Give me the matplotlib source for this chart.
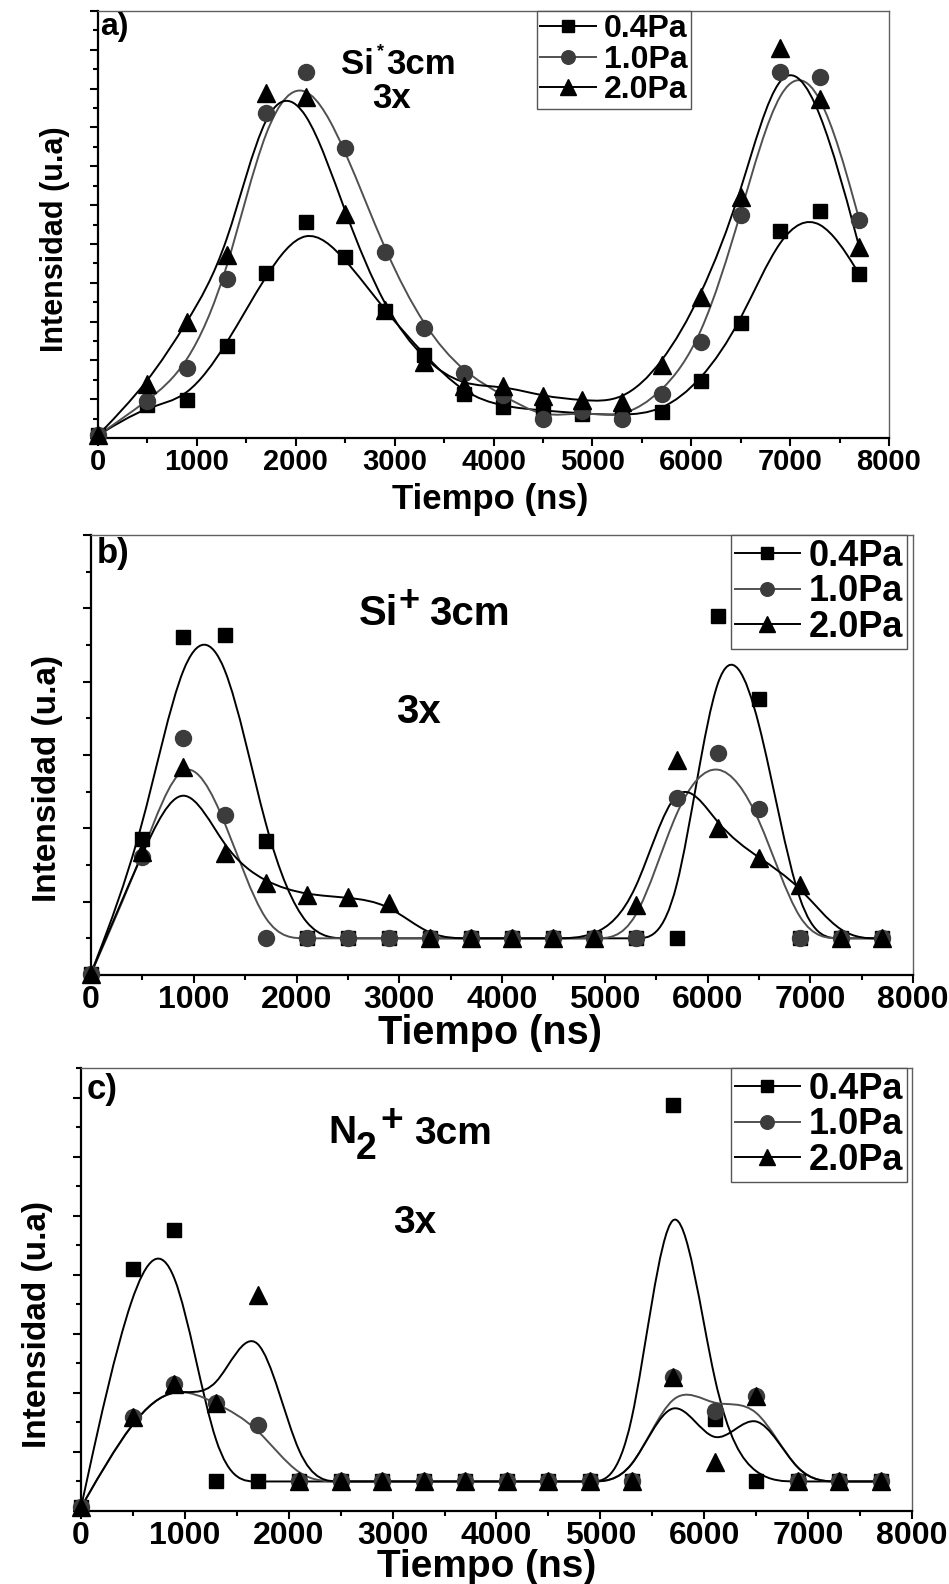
import numpy as np
import matplotlib
matplotlib.use('Agg')
import matplotlib.pyplot as plt
from matplotlib.path import Path
from matplotlib.patches import PathPatch
from matplotlib.lines import Line2D
from matplotlib.ticker import MultipleLocator

plt.rcParams['font.family'] = ['Liberation Sans', 'DejaVu Sans']
plt.rcParams['font.weight'] = 'bold'

W, H = 949, 1584   # output size in pixels

# time axis shared by the three panels (ns)
t_ns = [0, 500, 900, 1300, 1700, 2100, 2500, 2900, 3300, 3700,
        4100, 4500, 4900, 5300, 5700, 6100, 6500, 6900, 7300, 7700]
labels = ['0.4Pa', '1.0Pa', '2.0Pa']

# a) Si* 3cm
a_04 = [0.07, 0.84, 0.98, 2.38, 4.24, 5.57, 4.65, 3.28, 2.14, 1.13,
        0.80, 0.71, 0.63, 0.58, 0.67, 1.46, 2.95, 5.33, 5.85, 4.22]
a_10 = [0.07, 0.95, 1.80, 4.09, 8.36, 9.42, 7.47, 4.80, 2.83, 1.67,
        1.10, 0.50, 0.69, 0.50, 1.14, 2.47, 5.74, 9.44, 9.30, 5.62]
a_20 = [0.07, 1.40, 2.98, 4.71, 8.89, 8.78, 5.76, 3.30, 1.97, 1.33,
        1.35, 1.07, 0.97, 0.92, 1.87, 3.62, 6.22, 10.04, 8.73, 4.91]

# b) Si+ 3cm
b_04 = [0.02, 1.85, 4.61, 4.63, 1.83, 0.5, 0.5, 0.5, 0.5, 0.5,
        0.5, 0.5, 0.5, 0.5, 0.5, 4.89, 3.77, 0.5, 0.5, 0.5]
b_10 = [0.02, 1.61, 3.23, 2.18, 0.5, 0.5, 0.5, 0.5, 0.5, 0.5,
        0.5, 0.5, 0.5, 0.5, 2.41, 3.03, 2.27, 0.5, 0.5, 0.5]
b_20 = [0.02, 1.68, 2.83, 1.67, 1.25, 1.09, 1.06, 0.98, 0.5, 0.5,
        0.5, 0.5, 0.5, 0.95, 2.93, 2.00, 1.60, 1.23, 0.5, 0.5]

# c) N2+ 3cm
c_04 = [0.06, 4.09, 4.75, 0.5, 0.5, 0.5, 0.5, 0.5, 0.5, 0.5,
        0.5, 0.5, 0.5, 0.5, 6.87, 1.55, 0.5, 0.5, 0.5, 0.5]
c_10 = [0.06, 1.59, 2.15, 1.83, 1.45, 0.5, 0.5, 0.5, 0.5, 0.5,
        0.5, 0.5, 0.5, 0.5, 2.27, 1.70, 1.94, 0.5, 0.5, 0.5]
c_20 = [0.06, 1.59, 2.15, 1.83, 3.66, 0.5, 0.5, 0.5, 0.5, 0.5,
        0.5, 0.5, 0.5, 0.5, 2.27, 0.83, 1.94, 0.5, 0.5, 0.5]

LINE_C = ['black', '#505050', 'black']
MARK_C = ['black', '#3c3c3c', 'black']
MARKERS = [('s', 10.5), ('o', 11.5), ('^', 13)]


def px(x, y):
    return x / W, 1 - y / H


def bspline(ax, x, y, color):
    # Origin-style B-spline: the data points act as control points
    p = np.column_stack([x, y]).astype(float)
    p = np.vstack([p[:1], p[:1], p, p[-1:], p[-1:]])
    verts = [(p[0] + 4 * p[1] + p[2]) / 6]
    codes = [Path.MOVETO]
    for i in range(len(p) - 3):
        p0, p1, p2, p3 = p[i:i + 4]
        verts += [(2 * p1 + p2) / 3, (p1 + 2 * p2) / 3, (p1 + 4 * p2 + p3) / 6]
        codes += [Path.CURVE4] * 3
    ax.add_patch(PathPatch(Path(verts, codes), fill=False, edgecolor=color,
                           lw=1.4, zorder=2))


fig = plt.figure(figsize=(W / 100, H / 100), dpi=100)

# (left, top, right, bottom) px, ymax, series, tick size, legend (x, y), legend size, handle length
panels = [
    ((98, 11, 889, 438), 11, [a_04, a_10, a_20], 21, (537, 11), 23, 1.75),
    ((91, 535, 913, 975), 6, [b_04, b_10, b_20], 23, (731, 535), 26, 1.8),
    ((81, 1068, 912, 1511), 7.5, [c_04, c_10, c_20], 23, (731, 1068), 26, 1.8),
]

for (l, t, r, b), ymax, series, tsize, (lx, ly), legsize, hl in panels:
    ax = fig.add_axes([l / W, 1 - b / H, (r - l) / W, (b - t) / H])
    for k, yv in enumerate(series):
        bspline(ax, t_ns, yv, LINE_C[k])
    for k, yv in enumerate(series):
        m, ms = MARKERS[k]
        ax.plot(t_ns, yv, ls='none', marker=m, ms=ms, color=MARK_C[k],
                mec=MARK_C[k], zorder=3 + k, clip_on=False)
    ax.set_xlim(0, 8000)
    ax.set_ylim(0, ymax)
    ax.xaxis.set_major_locator(MultipleLocator(1000))
    ax.xaxis.set_minor_locator(MultipleLocator(500))
    ax.yaxis.set_major_locator(MultipleLocator(1))
    ax.yaxis.set_minor_locator(MultipleLocator(0.5))
    ax.tick_params(which='both', direction='out', width=1.5, top=False, right=False)
    ax.tick_params(which='major', length=6, labelsize=tsize, pad=1)
    ax.tick_params(which='minor', length=3.5)
    ax.tick_params(axis='y', labelleft=False)
    for lab in ax.get_xticklabels():
        lab.set_fontweight('bold')
    for s in ('left', 'bottom'):
        ax.spines[s].set_linewidth(1.6)
        ax.spines[s].set_color('black')
    for s in ('top', 'right'):
        ax.spines[s].set_linewidth(1.0)
        ax.spines[s].set_color('#606060')

    handles = [Line2D([], [], color=LINE_C[k], lw=1.4, marker=MARKERS[k][0],
                      ms=MARKERS[k][1] * 0.85, mfc=MARK_C[k], mec=MARK_C[k])
               for k in range(3)]
    leg = ax.legend(handles, labels, loc='upper left',
                    bbox_to_anchor=px(lx, ly), bbox_transform=fig.transFigure,
                    fancybox=False, framealpha=1, edgecolor='#555555',
                    borderpad=0.1, labelspacing=0.02, handlelength=hl,
                    handletextpad=0.25, borderaxespad=0,
                    prop={'size': legsize, 'weight': 'bold'})
    leg.get_frame().set_linewidth(1.0)

# axis titles
xl = [(490, 499, 25), (490, 1033, 28.5), (487, 1567, 28)]
yl = [(55, 239, 22), (48, 778, 24), (38, 1324, 24)]
for x, y, s in xl:
    fig.text(*px(x, y), 'Tiempo (ns)', ha='center', va='center', fontsize=s,
             fontweight='bold')
for x, y, s in yl:
    fig.text(*px(x, y), 'Intensidad (u.a)', ha='center', va='center', fontsize=s,
             fontweight='bold', rotation=90)

# panel tags and annotations
fig.text(*px(100, 27), 'a)', ha='left', va='center', fontsize=23, fontweight='bold')
fig.text(*px(97, 554), 'b)', ha='left', va='center', fontsize=25, fontweight='bold')
fig.text(*px(87, 1090), 'c)', ha='left', va='center', fontsize=25, fontweight='bold')

# a) Si* 3cm / 3x
fig.text(*px(341, 64), 'Si', ha='left', va='center', fontsize=25, fontweight='bold')
fig.text(*px(377, 52), '*', ha='left', va='center', fontsize=13, fontweight='bold')
fig.text(*px(386, 64), '3cm', ha='left', va='center', fontsize=25, fontweight='bold')
fig.text(*px(392, 99), '3x', ha='center', va='center', fontsize=25, fontweight='bold')

# b) Si+ 3cm / 3x
fig.text(*px(359, 614), 'Si', ha='left', va='center', fontsize=30, fontweight='bold')
fig.text(*px(398, 601), '+', ha='left', va='center', fontsize=26, fontweight='bold')
fig.text(*px(429, 614), '3cm', ha='left', va='center', fontsize=29, fontweight='bold')
fig.text(*px(418, 712), '3x', ha='center', va='center', fontsize=29, fontweight='bold')

# c) N2+ 3cm / 3x
fig.text(*px(328, 1133), 'N', ha='left', va='center', fontsize=28, fontweight='bold')
fig.text(*px(356, 1149), '2', ha='left', va='center', fontsize=27, fontweight='bold')
fig.text(*px(380, 1121), '+', ha='left', va='center', fontsize=28, fontweight='bold')
fig.text(*px(414, 1134), '3cm', ha='left', va='center', fontsize=28, fontweight='bold')
fig.text(*px(415, 1223), '3x', ha='center', va='center', fontsize=28, fontweight='bold')

fig.savefig('out.png', dpi=100)
